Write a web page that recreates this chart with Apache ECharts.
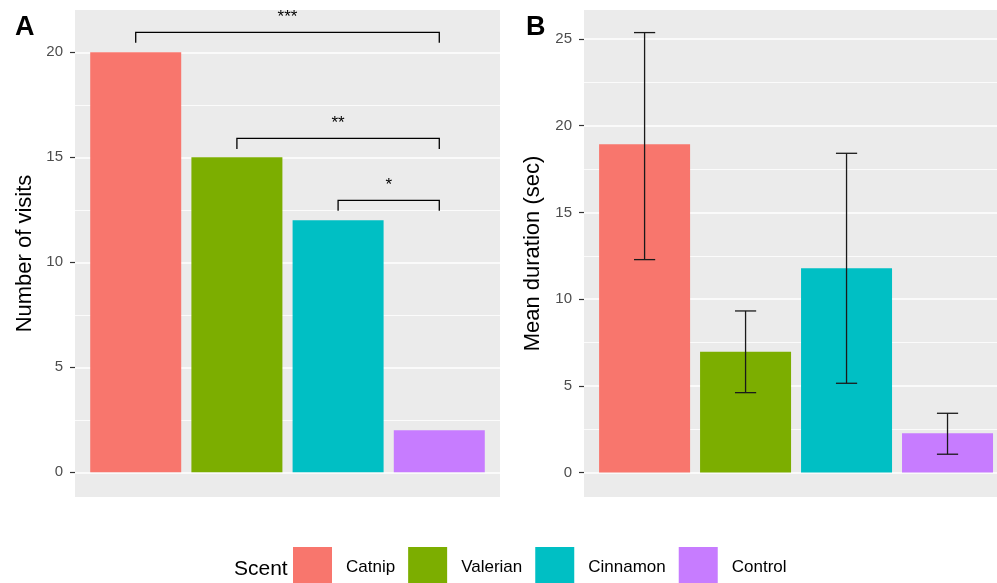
<!DOCTYPE html>
<html>
<head>
<meta charset="utf-8">
<script src="https://cdn.jsdelivr.net/npm/echarts@6/dist/echarts.min.js"></script>
<style>
  html, body { margin: 0; padding: 0; background: #ffffff; }
  #chart { width: 997px; height: 583px; }
</style>
</head>
<body>
<div id="chart"></div>
<script>
// Scent groups and their fill colours
const scents = ['Catnip', 'Valerian', 'Cinnamon', 'Control'];
const scentColors = ['#F8766D', '#7CAE00', '#00BFC4', '#C77CFF'];

// Panel A: number of visits
const visits = [20, 15, 12, 2];
const visitTicks = [0, 5, 10, 15, 20];

// Significance brackets for panel A (from scent, to scent, height, stars)
const bracketFrom = ['Catnip', 'Valerian', 'Cinnamon'];
const bracketTo = ['Control', 'Control', 'Control'];
const bracketY = [20.95, 15.9, 12.95];
const bracketStars = ['***', '**', '*'];
const bracketTip = 0.5;

// Panel B: mean visit duration with error bars
const meanDuration = [18.93, 6.97, 11.78, 2.27];
const durationLow = [12.28, 4.61, 5.15, 1.06];
const durationHigh = [25.37, 9.32, 18.41, 3.42];
const durationTicks = [0, 5, 10, 15, 20, 25];

const FONT = '"Liberation Sans", Arial, sans-serif';
const chart = echarts.init(document.getElementById('chart'), null, { renderer: 'canvas' });

const pos = name => scents.indexOf(name) + 1;

function valueAxis(gridIndex, ticks) {
  return {
    type: 'value', gridIndex,
    min: ticks[0], max: ticks[ticks.length - 1], interval: ticks[1] - ticks[0],
    axisLine: { show: false },
    axisTick: { show: true, length: 5, lineStyle: { color: '#333333', width: 1.2 } },
    axisLabel: { fontFamily: FONT, fontSize: 15, color: '#4D4D4D', margin: 12 },
    splitLine: { show: true, lineStyle: { color: '#FFFFFF', width: 1.6 } },
    minorTick: { show: false, splitNumber: 2 },
    minorSplitLine: { show: true, lineStyle: { color: '#FFFFFF', width: 0.8 } }
  };
}

// axis of a panel background: carries only the axis title, centred on the panel
function titleAxis(gridIndex, title, nameGap) {
  return {
    type: 'value', gridIndex, min: 0, max: 1,
    name: title, nameLocation: 'middle', nameGap,
    nameTextStyle: { fontFamily: FONT, fontSize: 22, color: '#000000' },
    axisLine: { show: false }, axisTick: { show: false },
    axisLabel: { show: false }, splitLine: { show: false }
  };
}

function hiddenAxis(type, gridIndex, extra) {
  return Object.assign({ type, gridIndex, show: false, splitLine: { show: false } }, extra || {});
}

const series = [];
// bars, one series per scent so the legend can list them
[[visits, 2, 2], [meanDuration, 3, 3]].forEach(([values, xi, yi]) => {
  scents.forEach((s, i) => {
    series.push({
      name: s, type: 'bar', xAxisIndex: xi, yAxisIndex: yi,
      data: [[i + 1, values[i]]],
      barWidth: 91, barGap: '-100%',
      itemStyle: { color: scentColors[i] },
      emphasis: { disabled: true }
    });
  });
});

// significance brackets
series.push({
  type: 'custom', xAxisIndex: 2, yAxisIndex: 2, z: 5, silent: true,
  data: bracketY.map((y, i) => [pos(bracketFrom[i]), pos(bracketTo[i]), y]),
  renderItem: (params, api) => {
    const a = api.value(0), b = api.value(1), y = api.value(2);
    const p1 = api.coord([a, y]), p2 = api.coord([b, y]);
    const t1 = api.coord([a, y - bracketTip]), t2 = api.coord([b, y - bracketTip]);
    const ls = { stroke: '#000000', lineWidth: 1.3, fill: null };
    return {
      type: 'group',
      children: [
        { type: 'polyline', shape: { points: [t1, p1, p2, t2] }, style: ls },
        { type: 'text', x: (p1[0] + p2[0]) / 2, y: p1[1] - 7,
          style: { text: bracketStars[params.dataIndex], fontFamily: FONT, fontSize: 17,
                   fill: '#000000', align: 'center', verticalAlign: 'bottom' } }
      ]
    };
  }
});

// error bars
series.push({
  type: 'custom', xAxisIndex: 3, yAxisIndex: 3, z: 5, silent: true,
  data: scents.map((s, i) => [i + 1, durationLow[i], durationHigh[i]]),
  renderItem: (params, api) => {
    const x = api.value(0);
    const lo = api.coord([x, api.value(1)]), hi = api.coord([x, api.value(2)]);
    const half = api.size([0.21, 0])[0] / 2;
    const ls = { stroke: '#1A1A1A', lineWidth: 1.3 };
    return {
      type: 'group',
      children: [
        { type: 'line', shape: { x1: lo[0], y1: lo[1], x2: hi[0], y2: hi[1] }, style: ls },
        { type: 'line', shape: { x1: lo[0] - half, y1: lo[1], x2: lo[0] + half, y2: lo[1] }, style: ls },
        { type: 'line', shape: { x1: hi[0] - half, y1: hi[1], x2: hi[0] + half, y2: hi[1] }, style: ls }
      ]
    };
  }
});

const option = {
  backgroundColor: '#FFFFFF',
  animation: false,
  title: [
    { text: 'A', left: 10, top: 9, textStyle: { fontFamily: FONT, fontSize: 27, fontWeight: 'bold', color: '#000' } },
    { text: 'B', left: 521, top: 9, textStyle: { fontFamily: FONT, fontSize: 27, fontWeight: 'bold', color: '#000' } },
    { text: 'Scent', left: 229, top: 554, textStyle: { fontFamily: FONT, fontSize: 21, fontWeight: 'normal', color: '#000' } }
  ],
  legend: {
    data: scents, left: 293, top: 547, padding: 0,
    icon: 'rect', itemWidth: 39, itemHeight: 40, itemGap: 13,
    selectedMode: false,
    textStyle: { fontFamily: FONT, fontSize: 17, color: '#000', padding: [0, 0, 0, 9] }
  },
  grid: [
    // panel backgrounds (panel B runs past the right edge of the canvas)
    { left: 75, top: 10, width: 425, height: 487, show: true, backgroundColor: '#EBEBEB', borderWidth: 0 },
    { left: 584, top: 10, right: 0, height: 487, show: true, backgroundColor: '#EBEBEB', borderWidth: 0 },
    // data areas spanning the labelled tick range
    { left: 75, top: 52.3, width: 425, height: 420 },
    { left: 584, top: 39, right: 0, height: 433.6 }
  ],
  xAxis: [
    hiddenAxis('value', 0, { min: 0, max: 1 }),
    hiddenAxis('value', 1, { min: 0, max: 1 }),
    hiddenAxis('value', 2, { min: 0.4, max: 4.6 }),
    // same unit width as panel A; the panel is cut at the canvas edge
    hiddenAxis('value', 3, { min: 0.4, max: 4.49 })
  ],
  yAxis: [
    titleAxis(0, 'Number of visits', 39),
    titleAxis(1, 'Mean duration (sec)', 40),
    valueAxis(2, visitTicks),
    valueAxis(3, durationTicks)
  ],
  series
};

chart.setOption(option);
</script>
</body>
</html>
